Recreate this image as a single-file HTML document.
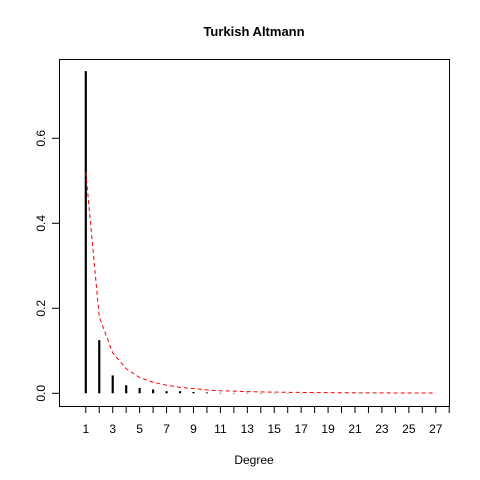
<!DOCTYPE html>
<html><head><meta charset="utf-8"><style>
body{margin:0;background:#fff}
svg{display:block;font-family:"Liberation Sans",Arial,sans-serif}
</style></head><body>
<svg id="chart" width="480" height="480">
<rect width="480" height="480" fill="#fff"/>
<text x="254" y="36" text-anchor="middle" font-weight="bold" font-size="13">Turkish Altmann</text>
<text x="254" y="464" text-anchor="middle" font-size="12">Degree</text>
<rect x="59.5" y="59.5" width="390" height="347" fill="none" stroke="#000"/>
<g id="xaxis"></g>
<g id="yaxis"></g>
<g id="bars"></g>
<path id="fit" fill="none" stroke="#ff0000" stroke-width="1" stroke-dasharray="4,3"/>
</svg>
<script>
const degrees = [1,2,3,4,5,6,7,8,9,10,11,12,13,14,15,16,17,18,19,20,21,22,23,24,25,26,27];
const observed = [0.758,0.125,0.042,0.019,0.0125,0.009,0.005,0.005,0.003,0.002,0.001,0.001,0.001,0.0008,0.0006,0.0005,0.0005,0.0004,0.0003,0.0003,0.0003,0.0002,0.0002,0.0002,0.0002,0.0001,0.0001];
const fitted = [0.52,0.18,0.095,0.058,0.037,0.026,0.019,0.014,0.011,0.008,0.006,0.005,0.004,0.0033,0.0028,0.0023,0.002,0.0017,0.0015,0.0013,0.0012,0.001,0.0009,0.0008,0.0007,0.0006,0.0006];
const yTicks = [0,0.2,0.4,0.6];
const xTicks = [1,2,3,4,5,6,7,8,9,10,11,12,13,14,15,16,17,18,19,20,21,22,23,24,25,26,27,28];

const NS="http://www.w3.org/2000/svg";
const xs = d => 85.8 + (d-1)*13.46;
const ys = v => 393.3 - v*425;
function mk(tag, attrs, parent){const e=document.createElementNS(NS,tag);for(const k in attrs)e.setAttribute(k,attrs[k]);parent.appendChild(e);return e;}
const xa=document.getElementById('xaxis'), ya=document.getElementById('yaxis'), bg=document.getElementById('bars');
xTicks.forEach(t=>{
  const l=mk('line',{x1:xs(t),x2:xs(t),y1:406.5,y2:413,stroke:'#000'},xa);
  
  
  if(t%2===1){
    const tx=mk('text',{x:xs(t),y:433,'text-anchor':'middle','font-size':12},xa);
    tx.textContent=t;
    
    
  }
});
yTicks.forEach(t=>{
  const y=ys(t);
  const l=mk('line',{x1:52,x2:59.5,y1:y,y2:y,stroke:'#000'},ya);
  
  
  const tx=mk('text',{x:0,y:0,'text-anchor':'middle','font-size':12,transform:`translate(45,${y}) rotate(-90)`},ya);
  tx.textContent=t.toFixed(1);
  
  
});
degrees.forEach((d,i)=>{
  const b=mk('line',{x1:xs(d),x2:xs(d),y1:ys(0),y2:ys(observed[i]),stroke:'#000','stroke-width':2.2},bg);
  
  
});
let p='M'+xs(degrees[0])+','+ys(fitted[0]);
for(let i=1;i<degrees.length;i++){
  p+=` L${xs(degrees[i])},${ys(fitted[i])}`;
}
document.getElementById('fit').setAttribute('d',p);
</script>
</body></html>
